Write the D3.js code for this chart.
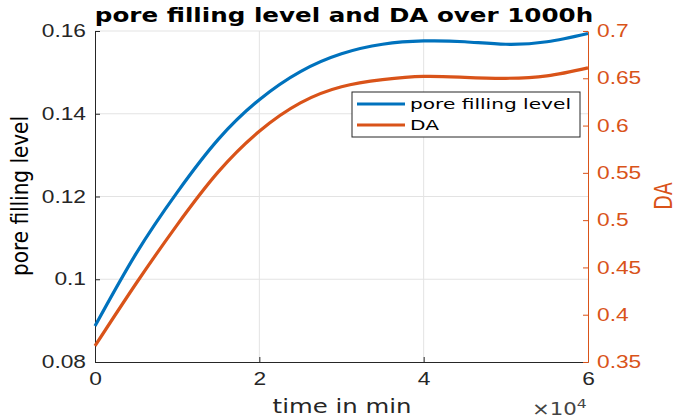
<!DOCTYPE html>
<html>
<head>
<meta charset="utf-8">
<script src="https://cdn.jsdelivr.net/npm/d3@7"></script>
<style>
  body { margin: 0; background: #fff; }
  svg { display: block; font-family: "DejaVu Sans", sans-serif; }
</style>
</head>
<body>
<svg id="chart" width="685" height="419"></svg>
<script>
// time in minutes, sampled every 5000 min
var timeMin = [0, 5000, 10000, 15000, 20000, 25000, 30000, 35000, 40000, 45000, 50000, 55000, 60000];
var poreFilling = [0.0887, 0.1062, 0.1210, 0.1338, 0.1434, 0.1502, 0.1545, 0.1568, 0.1576, 0.1574, 0.1568, 0.1574, 0.1594];
var daValues = [0.367, 0.433, 0.495, 0.551, 0.594, 0.624, 0.641, 0.6485, 0.652, 0.651, 0.650, 0.6525, 0.661];

var xTicks = [0, 20000, 40000, 60000];
var leftTicks = [0.08, 0.1, 0.12, 0.14, 0.16];
var rightTicks = [0.35, 0.4, 0.45, 0.5, 0.55, 0.6, 0.65, 0.7];
var seriesNames = ["pore filling level", "DA"];

var blue = "#0072BD", orange = "#D95319", axisCol = "#262626";

var svg = d3.select("#chart");
// plot box (window.top is reserved, so use own names)
var pLeft = 95, pRight = 588, pTop = 31, pBottom = 362;

// the source picture is stretched sideways, so texts get a horizontal scale
function stretch(sel, sx){
    sel.each(function(){
        var t = d3.select(this);
        var tx = +(t.attr("x") || 0);
        t.attr("x", 0).attr("transform", "translate(" + tx + ",0) scale(" + sx + ",1)");
    });
}

var x = d3.scaleLinear().domain([0, 60000]).range([pLeft, pRight]);
var yL = d3.scaleLinear().domain([0.08, 0.16]).range([pBottom, pTop]);
var yR = d3.scaleLinear().domain([0.35, 0.7]).range([pBottom, pTop]);

// grid
svg.append("g").selectAll("line").data(xTicks.slice(1, -1)).enter().append("line")
    .attr("x1", d => x(d)).attr("x2", d => x(d)).attr("y1", pTop).attr("y2", pBottom)
    .attr("stroke", "#e3e3e3").attr("stroke-width", 1);
svg.append("g").selectAll("line").data(leftTicks.slice(1, -1)).enter().append("line")
    .attr("x1", pLeft).attr("x2", pRight).attr("y1", d => yL(d)).attr("y2", d => yL(d))
    .attr("stroke", "#e3e3e3").attr("stroke-width", 1);
svg.append("line").attr("x1", pLeft).attr("x2", pRight).attr("y1", pTop).attr("y2", pTop)
    .attr("stroke", "#e3e3e3");

// axes (ticks pointing inward like matlab)
var xAxis = svg.append("g").attr("transform", "translate(0," + pBottom + ")")
    .call(d3.axisBottom(x).tickValues(xTicks).tickSizeInner(-5).tickSizeOuter(0).tickPadding(10)
        .tickFormat(d => d / 10000));
var yAxisL = svg.append("g").attr("transform", "translate(" + pLeft + ",0)")
    .call(d3.axisLeft(yL).tickValues(leftTicks).tickSizeInner(-5).tickSizeOuter(0).tickPadding(9)
        .tickFormat(d => String(+d.toFixed(2))));
var yAxisR = svg.append("g").attr("transform", "translate(" + pRight + ",0)")
    .call(d3.axisRight(yR).tickValues(rightTicks).tickSizeInner(-5).tickSizeOuter(0).tickPadding(9)
        .tickFormat(d => String(+d.toFixed(2))));

[xAxis, yAxisL].forEach(function(g){
    g.selectAll("path, line").attr("stroke", axisCol);
    g.selectAll("text").attr("fill", axisCol).style("font-size", "17.5px");
});
yAxisR.selectAll("path, line").attr("stroke", orange);
yAxisR.selectAll("text").attr("fill", orange).style("font-size", "17.5px");
xAxis.selectAll("text").attr("dy", "0.75em");
[xAxis, yAxisL, yAxisR].forEach(g => stretch(g.selectAll("text"), 1.3));

// series
var lineL = d3.line().x((d, i) => x(timeMin[i])).y(d => yL(d)).curve(d3.curveNatural);
var lineR = d3.line().x((d, i) => x(timeMin[i])).y(d => yR(d)).curve(d3.curveNatural);
svg.append("path").datum(poreFilling).attr("d", lineL)
    .attr("fill", "none").attr("stroke", blue).attr("stroke-width", 3.2);
svg.append("path").datum(daValues).attr("d", lineR)
    .attr("fill", "none").attr("stroke", orange).attr("stroke-width", 3.2);

// labels
var title = svg.append("text").attr("x", 344).attr("y", 22).attr("text-anchor", "middle")
    .attr("font-weight", "bold").attr("font-size", 20).attr("fill", "#000")
    .text("pore filling level and DA over 1000h");
stretch(title, 1.23);
var xLab = svg.append("text").attr("x", 342).attr("y", 413).attr("text-anchor", "middle")
    .attr("font-size", 20).attr("fill", axisCol).text("time in min");
stretch(xLab, 1.22);
svg.append("text").attr("transform", "translate(28,196) rotate(-90) scale(1,1.15)")
    .attr("text-anchor", "middle").attr("font-size", 20).attr("fill", "#000").text("pore filling level");
svg.append("text").attr("transform", "translate(672,196) rotate(-90) scale(1,1.3)")
    .attr("text-anchor", "middle").attr("font-size", 19).attr("fill", orange).text("DA");
var ex = svg.append("text").attr("x", 532).attr("y", 415).attr("font-size", 17).attr("fill", "#444");
ex.append("tspan").text("\u00d710");
ex.append("tspan").attr("dy", -7).attr("font-size", 12.5).text("4");
stretch(ex, 1.25);

// legend
var leg = svg.append("g").attr("transform", "translate(352,92)");
leg.append("rect").attr("width", 228).attr("height", 45)
    .attr("fill", "#fff").attr("stroke", axisCol).attr("stroke-width", 1);
var cols = [blue, orange];
seriesNames.forEach(function(n, i){
    var yy = 12 + i * 21;
    leg.append("line").attr("x1", 5).attr("x2", 53).attr("y1", yy).attr("y2", yy)
        .attr("stroke", cols[i]).attr("stroke-width", 3.2);
    var t = leg.append("text").attr("x", 58).attr("y", yy).attr("dy", "0.36em")
        .attr("font-size", 14.7).attr("fill", "#000").text(n);
    stretch(t, 1.37);
});
</script>
</body>
</html>
